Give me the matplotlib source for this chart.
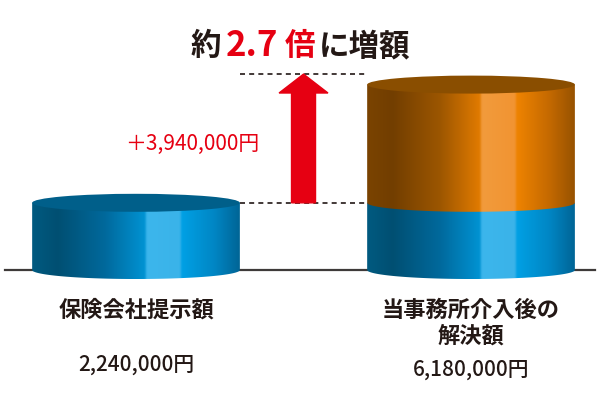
import numpy as np
import matplotlib.pyplot as plt
from matplotlib.patches import Ellipse, PathPatch, FancyArrow
from matplotlib.path import Path
from matplotlib.colors import LinearSegmentedColormap

plt.rcParams['font.family'] = ['Noto Sans CJK JP', 'DejaVu Sans']

# data (units: 10,000 yen)
categories = ['保険会社提示額', '当事務所介入後の\n解決額']
amount_labels = ['2,240,000円', '6,180,000円']
base_values = [224, 224]
increase_values = [0, 394]
diff_label = '＋3,940,000円'
title_parts = ['約', '2.7', '倍', 'に増額']

# colours
blue_stops = [(0.0, '#005a80'), (0.12, '#004f72'), (0.35, '#00699c'), (0.54, '#0092d2'),
              (0.555, '#3cb6ec'), (0.71, '#3ab3e9'), (0.725, '#00a0e4'), (0.88, '#0086c4'),
              (1.0, '#006596')]
orange_stops = [(0.0, '#7a4300'), (0.12, '#723e00'), (0.35, '#9c5600'), (0.54, '#e07a00'),
                (0.555, '#f29b3c'), (0.71, '#f19432'), (0.725, '#ee8300'), (0.88, '#c46900'),
                (1.0, '#985300')]
blue_cmap = LinearSegmentedColormap.from_list('b', blue_stops)
orange_cmap = LinearSegmentedColormap.from_list('o', orange_stops)
blue_top = '#005f8a'
orange_top = '#8a4e00'
red = '#e60012'
ink = '#231815'

fig = plt.figure(figsize=(6, 4), dpi=100)
ax = fig.add_axes([0, 0, 1, 1])
ax.set_xlim(-0.406, 1.385)
ax.set_ylim(-433.3, 900)
ax.axis('off')

half_w = 0.31   # half cylinder width (index units)
eb = 30         # ellipse half height (value units)


def body(xc, bottom, top, cmap, z):
    th = np.linspace(np.pi, 2 * np.pi, 80)
    pts = [(xc - half_w, top), (xc - half_w, bottom)]
    pts += list(zip(xc + half_w * np.cos(th), bottom + eb * np.sin(th)))
    pts += [(xc + half_w, top), (xc - half_w, top)]
    patch = PathPatch(Path(pts), transform=ax.transData, facecolor='none', edgecolor='none')
    grad = cmap(np.linspace(0, 1, 400))[None, :, :3]
    im = ax.imshow(grad, extent=[xc - half_w, xc + half_w, bottom - eb, top],
                   aspect='auto', interpolation='bilinear', zorder=z)
    im.set_clip_path(patch)


# baseline
ax.plot([-0.39, 1.37], [0, 0], color='#3e3a39', lw=1.6, zorder=1)

for i in range(len(categories)):
    base = base_values[i]
    inc = increase_values[i]
    body(i, 0, base, blue_cmap, 2)
    top_col = blue_top
    if inc > 0:
        body(i, base, base + inc, orange_cmap, 3)
        top_col = orange_top
    ax.add_patch(Ellipse((i, base + inc), 2 * half_w, 2 * eb, facecolor=top_col,
                         edgecolor='none', zorder=4))

# dashed guide lines between the cylinders
top_total = base_values[1] + increase_values[1]
for yv in [base_values[0], top_total + eb + 5]:
    ax.plot([half_w, 1 - half_w], [yv, yv], color=ink, lw=1.2,
            dashes=(3, 2.5), zorder=2)

# red arrow
ax.add_patch(FancyArrow(0.5, base_values[0], 0, top_total + eb + 5 - base_values[0],
                        width=0.0716, head_width=0.146, head_length=63,
                        length_includes_head=True, color=red, zorder=5))

ax.text(0.167, (base_values[0] + top_total) / 2, diff_label, color=red, fontsize=15,
        ha='center', va='center')

# category labels and amounts
for i, cat in enumerate(categories):
    ax.text(i, -95, cat, ha='center', va='top', fontsize=16, fontweight='bold',
            color=ink, linespacing=1.15)
amount_y = [-317, -333]
for i, lab in enumerate(amount_labels):
    ax.text(i, amount_y[i], lab, ha='center', va='center', fontsize=15,
            fontweight='medium', color=ink)

# title built from pieces
renderer = fig.canvas.get_renderer()
styles = [(ink, 22), (red, 25), (red, 22), (ink, 22)]
gaps = [4, 7, 3, 0]
x = 191
for part, (col, fs), gap in zip(title_parts, styles, gaps):
    t = fig.text(x / 600, 1 - 46 / 400, part, color=col, fontsize=fs,
                 fontweight='bold', ha='left', va='center')
    bb = t.get_window_extent(renderer)
    x = bb.x1 + gap

fig.savefig('out.png', dpi=100)
